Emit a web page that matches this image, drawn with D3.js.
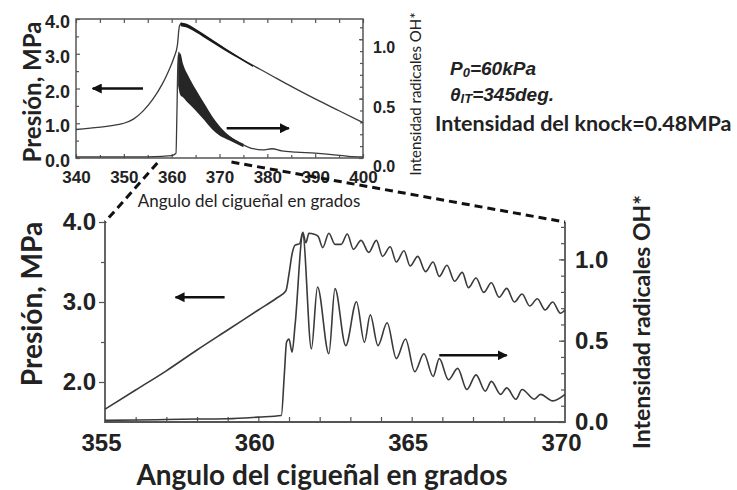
<!DOCTYPE html>
<html>
<head>
<meta charset="utf-8">
<script src="https://cdn.jsdelivr.net/npm/d3@7"></script>
<style>
body { margin: 0; background: #fff; }
text { fill: #222; }
</style>
</head>
<body>
<svg width="737" height="490"></svg>
<script>
// ---- top chart (full cycle 340-400 deg) ----
const topAngleTicks = [340, 350, 360, 370, 380, 390, 400];
const topPressTicks = [0, 1, 2, 3, 4];
const topOHTicks = [0, 0.5, 1.0];

// pressure, MPa
const topPressure = [[340, 0.82], [343, 0.86], [346, 0.9], [349, 0.97], [350, 1.0], [352, 1.12],
  [354, 1.35], [356, 1.68], [358, 2.12], [359.5, 2.55], [360.5, 2.9], [361.2, 3.25], [361.6, 3.78],
  [362, 3.87], [363, 3.82], [365, 3.67], [367, 3.5], [370, 3.24], [373, 2.98], [376, 2.74],
  [380, 2.44], [385, 2.06], [390, 1.7], [395, 1.36], [400, 1.02]];
// noisy part of the pressure trace: [angle, high, low]
const topPressureBand = [[361.9, 3.9, 3.79], [363, 3.87, 3.76], [365, 3.72, 3.62], [368, 3.45, 3.36],
  [371, 3.18, 3.1], [374, 2.92, 2.86], [377, 2.66, 2.62]];

// OH* intensity
const topOH = [[340, 0.01], [350, 0.01], [355, 0.01], [358, 0.014], [360, 0.02], [360.9, 0.04],
  [361.1, 0.38], [361.3, 0.8], [361.5, 0.89], [362.4, 0.64], [365, 0.49], [368.5, 0.3],
  [372, 0.18], [375, 0.11], [377, 0.078], [379, 0.069], [381, 0.078], [383, 0.06], [386, 0.05],
  [390, 0.041], [394, 0.027], [397, 0.014], [400, 0.01]];
// noisy part of the OH* trace: [angle, high, low]
const topOHBand = [[361.35, 0.85, 0.61], [361.8, 0.88, 0.53], [362.4, 0.79, 0.51], [363.5, 0.69, 0.46],
  [365, 0.58, 0.4], [366.8, 0.46, 0.32], [368.5, 0.35, 0.24], [370, 0.27, 0.19], [372, 0.19, 0.15],
  [375, 0.12, 0.09]];

// ---- bottom chart (zoom 355-370 deg) ----
const botAngleTicks = [355, 360, 365, 370];
const botPressTicks = [2, 3, 4];
const botOHTicks = [0, 0.5, 1.0];

const botPressure = [[355, 1.66], [356, 1.9], [357, 2.14], [358, 2.4], [359, 2.65], [360, 2.9],
  [360.6, 3.05], [360.9, 3.14], [361.0, 3.35], [361.1, 3.6], [361.2, 3.71], [361.35, 3.73],
  [361.45, 3.87], [361.55, 3.74], [361.65, 3.86], [361.8, 3.85], [361.95, 3.82], [362.1, 3.68],
  [362.3, 3.86], [362.5, 3.72], [362.7, 3.72], [362.9, 3.85], [363.1, 3.66], [363.35, 3.77],
  [363.6, 3.62], [363.85, 3.77], [364.05, 3.57], [364.3, 3.69], [364.5, 3.5], [364.75, 3.64],
  [364.95, 3.45], [365.2, 3.57], [365.45, 3.38], [365.7, 3.5], [365.9, 3.32], [366.15, 3.46],
  [366.4, 3.26], [366.65, 3.37], [366.85, 3.18], [367.1, 3.3], [367.35, 3.12], [367.6, 3.24],
  [367.85, 3.06], [368.1, 3.17], [368.35, 3.0], [368.6, 3.1], [368.85, 2.95], [369.1, 3.04],
  [369.35, 2.9], [369.6, 3.0], [369.85, 2.86], [370, 2.9]];

const botOH = [[355, 0.01], [356, 0.012], [357, 0.015], [358, 0.018], [359, 0.02], [360, 0.03],
  [360.75, 0.04], [360.85, 0.3], [360.92, 0.49], [361.0, 0.51], [361.1, 0.43], [361.2, 0.6],
  [361.45, 1.15], [361.73, 0.45], [361.93, 0.83], [362.3, 0.42], [362.5, 0.82], [362.85, 0.47],
  [363.2, 0.74], [363.46, 0.49], [363.65, 0.66], [363.9, 0.47], [364.2, 0.61], [364.5, 0.39],
  [364.8, 0.51], [365.1, 0.31], [365.4, 0.42], [365.7, 0.28], [365.9, 0.39], [366.2, 0.26],
  [366.5, 0.33], [366.8, 0.2], [367.1, 0.29], [367.4, 0.19], [367.6, 0.25], [367.9, 0.17],
  [368.1, 0.21], [368.4, 0.14], [368.6, 0.2], [369.0, 0.14], [369.2, 0.17], [369.6, 0.13],
  [370, 0.17]];

const svg = d3.select("svg");
const lineColor = "#3a3a3a";
const helv = "Liberation Sans, Arial, sans-serif";
const cal = "Lato, 'Open Sans', sans-serif";

function styleAxis(g, size, weight) {
  g.select(".domain").remove();
  g.selectAll(".tick line").attr("stroke", "#555").attr("stroke-width", 1.2);
  g.selectAll(".tick text").attr("font-family", helv)
    .attr("font-weight", weight).attr("font-size", size).attr("fill", "#222");
}

// ---------------- top chart ----------------
const tx = d3.scaleLinear().domain([340, 400]).range([76, 363]);
const tyP = d3.scaleLinear().domain([0, 4]).range([158, 19]);
const tyO = d3.scaleLinear().domain([0, 1.17]).range([158, 19]);

const gt = svg.append("g");
gt.append("rect").attr("x", tx(340)).attr("y", tyP(4)).attr("width", tx(400) - tx(340))
  .attr("height", tyP(0) - tyP(4))
  .attr("fill", "none").attr("stroke", "#555").attr("stroke-width", 1.5);

gt.append("g").attr("transform", "translate(0,158)")
  .call(d3.axisBottom(tx).tickValues(topAngleTicks).tickSize(-4).tickPadding(13).tickFormat(d3.format("d")))
  .call(g => styleAxis(g, 17, "bold"));
gt.append("g").attr("transform", "translate(0,158)")
  .call(d3.axisBottom(tx).tickValues(d3.range(345, 400, 10)).tickSize(-3).tickFormat(""))
  .call(g => styleAxis(g, 1, "normal"));
gt.append("g").attr("transform", "translate(0,19)")
  .call(d3.axisTop(tx).ticks(12).tickSize(-4).tickFormat(""))
  .call(g => styleAxis(g, 1, "normal"));
gt.append("g").attr("transform", "translate(76,0)")
  .call(d3.axisLeft(tyP).tickValues(topPressTicks).tickSize(-4).tickPadding(6).tickFormat(d3.format(".1f")))
  .call(g => styleAxis(g, 18, "bold"))
  .call(g => g.selectAll(".tick text").attr("dy", "0.48em"));
gt.append("g").attr("transform", "translate(76,0)")
  .call(d3.axisLeft(tyP).tickValues([0.5, 1.5, 2.5, 3.5]).tickSize(-3).tickFormat(""))
  .call(g => styleAxis(g, 1, "normal"));
gt.append("g").attr("transform", "translate(363,0)")
  .call(d3.axisRight(tyO).tickValues(topOHTicks).tickSize(-4).tickPadding(10).tickFormat(d3.format(".1f")))
  .call(g => styleAxis(g, 16, "bold"))
  .call(g => g.selectAll(".tick text").attr("dy", "0.85em"));
gt.append("g").attr("transform", "translate(363,0)")
  .call(d3.axisRight(tyO).tickValues(d3.range(0.1, 1.15, 0.1)).tickSize(-3).tickFormat(""))
  .call(g => styleAxis(g, 1, "normal"));

const topLineP = d3.line().x(d => tx(d[0])).y(d => tyP(d[1])).curve(d3.curveMonotoneX);
const topLineO = d3.line().x(d => tx(d[0])).y(d => tyO(d[1])).curve(d3.curveMonotoneX);
gt.append("path").attr("d", topLineP(topPressure)).attr("fill", "none")
  .attr("stroke", lineColor).attr("stroke-width", 1.3);
gt.append("path").attr("d", d3.area().x(d => tx(d[0])).y0(d => tyP(d[2])).y1(d => tyP(d[1]))
  .curve(d3.curveMonotoneX)(topPressureBand)).attr("fill", "#1a1a1a");
gt.append("path").attr("d", topLineO(topOH)).attr("fill", "none")
  .attr("stroke", lineColor).attr("stroke-width", 1.3);
gt.append("path").attr("d", d3.area().x(d => tx(d[0])).y0(d => tyO(d[2])).y1(d => tyO(d[1]))
  .curve(d3.curveMonotoneX)(topOHBand)).attr("fill", "#262626");

// ---------------- bottom chart ----------------
const bx = d3.scaleLinear().domain([355, 370]).range([105, 565]);
const byP = d3.scaleLinear().domain([1.5, 4.0]).range([422, 222]);
const byO = d3.scaleLinear().domain([0, 1.23]).range([422, 222]);

const gb = svg.append("g");
gb.append("path").attr("d", `M${bx(355)},${byP(4)}V${byP(1.5)}H${bx(370)}V${byP(4)}`).attr("fill", "none")
  .attr("stroke", "#555").attr("stroke-width", 1.8);

gb.append("g").attr("transform", "translate(0,422)")
  .call(d3.axisBottom(bx).tickValues(d3.range(356, 370, 1)).tickSize(-5).tickFormat(""))
  .call(g => styleAxis(g, 1, "normal"));
gb.append("g").attr("transform", "translate(0,422)")
  .call(d3.axisBottom(bx).tickValues(botAngleTicks).tickSize(0).tickPadding(12).tickFormat(d3.format("d")))
  .call(g => styleAxis(g, 24, "bold"))
  .call(g => g.selectAll(".tick text").attr("dx", -4));
gb.append("g").attr("transform", "translate(105,0)")
  .call(d3.axisLeft(byP).tickValues(botPressTicks).tickSize(6).tickPadding(3).tickFormat(d3.format(".1f")))
  .call(g => styleAxis(g, 24, "bold"));
gb.append("g").attr("transform", "translate(105,0)")
  .call(d3.axisLeft(byP).tickValues([2.5, 3.5]).tickSize(4).tickFormat(""))
  .call(g => styleAxis(g, 1, "normal"));
gb.append("g").attr("transform", "translate(565,0)")
  .call(d3.axisRight(byO).tickValues(botOHTicks).tickSize(-6).tickPadding(10).tickFormat(d3.format(".1f")))
  .call(g => styleAxis(g, 24, "bold"));
gb.append("g").attr("transform", "translate(565,0)")
  .call(d3.axisRight(byO).tickValues(d3.range(0.1, 1.21, 0.1)).tickSize(-4).tickFormat(""))
  .call(g => styleAxis(g, 1, "normal"));

gb.append("path").attr("d", d3.line().x(d => bx(d[0])).y(d => byP(d[1])).curve(d3.curveMonotoneX)(botPressure))
  .attr("fill", "none").attr("stroke", lineColor).attr("stroke-width", 1.6);
gb.append("path").attr("d", d3.line().x(d => bx(d[0])).y(d => byO(d[1])).curve(d3.curveMonotoneX)(botOH))
  .attr("fill", "none").attr("stroke", lineColor).attr("stroke-width", 1.6);

// ---------------- arrows ----------------
const defs = svg.append("defs");
defs.append("marker").attr("id", "ah").attr("viewBox", "0 0 10 10").attr("refX", 9).attr("refY", 5)
  .attr("markerWidth", 4).attr("markerHeight", 4).attr("orient", "auto")
  .append("path").attr("d", "M0,0L10,5L0,10z").attr("fill", "#111");
function arrow(x1, x2, y, w) {
  svg.append("line").attr("x1", x1).attr("x2", x2).attr("y1", y).attr("y2", y)
    .attr("stroke", "#111").attr("stroke-width", w).attr("marker-end", "url(#ah)");
}
arrow(tx(354), tx(343.5), tyP(2.0), 2.5);
arrow(tx(371.5), tx(384.5), tyO(0.25), 2.5);
arrow(bx(358.9), bx(357.3), byP(3.06), 2.5);
arrow(bx(365.9), bx(368.1), byO(0.41), 2.5);

// ---------------- zoom connectors ----------------
svg.append("line").attr("x1", tx(357)).attr("y1", 163).attr("x2", bx(355)).attr("y2", byP(4))
  .attr("stroke", "#111").attr("stroke-width", 3).attr("stroke-dasharray", "8,5");
svg.append("line").attr("x1", tx(372.5)).attr("y1", 162).attr("x2", bx(370)).attr("y2", byP(4))
  .attr("stroke", "#111").attr("stroke-width", 3).attr("stroke-dasharray", "8,5");

// ---------------- titles / annotations ----------------
svg.append("text").attr("transform", "translate(41,92) rotate(-90)").attr("text-anchor", "middle")
  .attr("font-family", cal).attr("font-weight", "bold").attr("font-size", 24).text("Presión, MPa");
svg.append("text").attr("transform", "translate(421,94) rotate(-90)").attr("text-anchor", "middle")
  .attr("font-family", cal).attr("font-size", 15).attr("fill", "#3a3a20").text("Intensidad radicales OH*");
svg.append("text").attr("x", 249).attr("y", 207).attr("text-anchor", "middle")
  .attr("font-family", cal).attr("font-size", 17).text("Angulo del cigueñal en grados");

svg.append("text").attr("transform", "translate(42,304) rotate(-90)").attr("text-anchor", "middle")
  .attr("font-family", cal).attr("font-weight", "bold").attr("font-size", 28).text("Presión, MPa");
svg.append("text").attr("transform", "translate(650,322) rotate(-90)").attr("text-anchor", "middle")
  .attr("font-family", cal).attr("font-size", 23).attr("font-weight", "bold").attr("fill", "#333")
  .text("Intensidad radicales OH*");
svg.append("text").attr("x", 322).attr("y", 485).attr("text-anchor", "middle")
  .attr("font-family", cal).attr("font-weight", "bold").attr("font-size", 28).text("Angulo del cigueñal en grados");

const ann = svg.append("g").attr("font-family", helv)
  .attr("font-weight", "bold").attr("font-style", "italic").attr("font-size", 19);
const t1 = ann.append("text").attr("x", 450).attr("y", 75);
t1.append("tspan").text("P");
t1.append("tspan").attr("font-size", 13).attr("dy", 2).text("0");
t1.append("tspan").attr("dy", -2).text("=60kPa");
const t2 = ann.append("text").attr("x", 450).attr("y", 101);
t2.append("tspan").text("θ");
t2.append("tspan").attr("font-size", 13).attr("dy", 2).text("IT");
t2.append("tspan").attr("dy", -2).text("=345deg.");
svg.append("text").attr("x", 435).attr("y", 131).attr("font-family", cal).attr("font-weight", "bold")
  .attr("font-size", 21.5).text("Intensidad del knock=0.48MPa");
</script>
</body>
</html>
